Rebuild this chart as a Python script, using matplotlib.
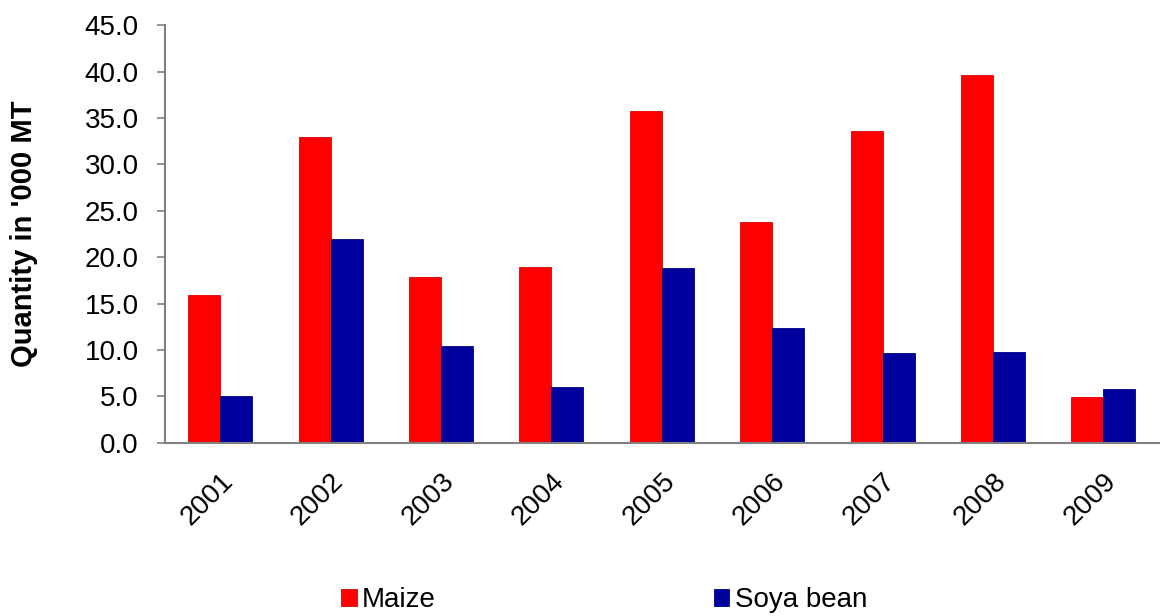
import matplotlib.pyplot as plt
import numpy as np

years = ["2001", "2002", "2003", "2004", "2005", "2006", "2007", "2008", "2009"]
maize = [15.9, 33.0, 17.9, 18.9, 35.8, 23.8, 33.6, 39.6, 4.9]
soya = [5.1, 22.0, 10.4, 6.0, 18.8, 12.4, 9.7, 9.8, 5.8]

plt.rcParams["font.family"] = ["Liberation Sans", "DejaVu Sans"]

fig = plt.figure(figsize=(11.62, 6.16), dpi=100)
ax = fig.add_axes([0.142, 0.281, 0.855, 0.678])

x = np.arange(len(years))
w = 0.29
ax.bar(x - w / 2, maize, w, color="#ff0000", edgecolor="#e00000", linewidth=0.6, label="Maize")
ax.bar(x + w / 2, soya, w, color="#00009c", edgecolor="#000080", linewidth=0.6, label="Soya bean")

ax.set_xlim(-0.5, len(years) - 0.5)
ax.set_ylim(0, 45)
ax.set_yticks(np.arange(0, 46, 5))
ax.set_yticklabels([f"{v:.1f}" for v in np.arange(0, 46, 5)], fontsize=20)
ax.set_xticks(x)
ax.set_xticklabels(years, fontsize=20, rotation=45, ha="right", rotation_mode="anchor")
ax.tick_params(axis="x", length=0, pad=18)
ax.tick_params(axis="y", length=6, color="#808080", width=1.2, pad=13)

for s in ["top", "right"]:
    ax.spines[s].set_visible(False)
for s in ["left", "bottom"]:
    ax.spines[s].set_color("#808080")
    ax.spines[s].set_linewidth(1.5)

ax.set_ylabel("Quantity in '000 MT", fontsize=21, fontweight="bold")
ax.yaxis.set_label_coords(-0.128, 0.5)

fig.legend(loc="center", bbox_to_anchor=(0.52, 0.026), ncol=2, frameon=False,
           fontsize=20, handlelength=0.55, handleheight=0.55, handletextpad=0.2,
           columnspacing=10)

fig.savefig("out.png", dpi=100)
